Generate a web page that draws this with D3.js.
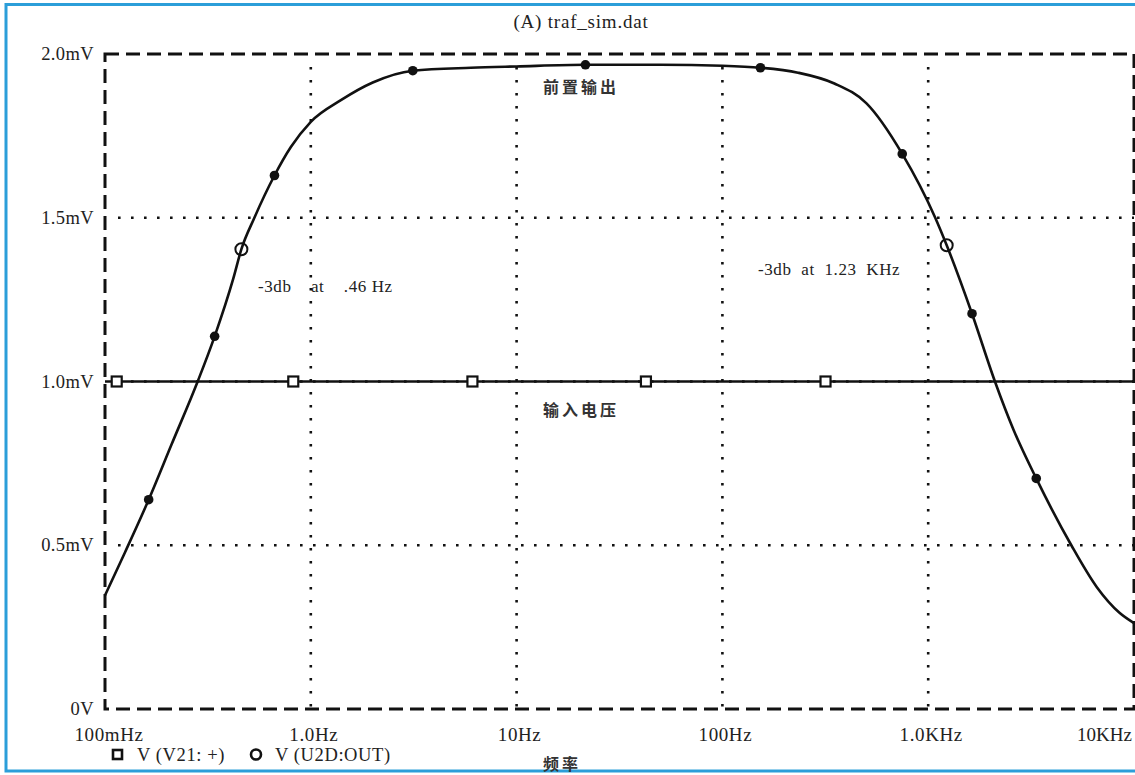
<!DOCTYPE html>
<html>
<head>
<meta charset="utf-8">
<script src="https://cdn.jsdelivr.net/npm/d3@7"></script>
<style>
  html, body { margin: 0; padding: 0; background: #fff; }
  svg { display: block; }
  .serif { font-family: "Liberation Serif", "DejaVu Serif", serif; fill: #222; }
  .cjk { font-family: "Noto Sans CJK SC", sans-serif; font-weight: 700; fill: #333; }
</style>
</head>
<body>
<svg id="chart" width="1135" height="775"></svg>
<script>
// Frequency response of the preamp output, V(U2D:OUT)
const outFreq = [0.1, 0.125, 0.163, 0.21, 0.282, 0.341, 0.42, 0.46, 0.532, 0.666, 0.8, 1.0, 1.4, 2.0, 3.13, 6, 10, 21.6, 50, 100, 153, 233, 350, 500, 748, 1082, 1230, 1633, 2110, 2600, 3350, 4960, 6600, 8500, 10000];
const outVolt = [0.347, 0.478, 0.639, 0.806, 1.0, 1.138, 1.314, 1.404, 1.5, 1.629, 1.716, 1.793, 1.859, 1.913, 1.949, 1.958, 1.962, 1.967, 1.967, 1.964, 1.958, 1.943, 1.91, 1.85, 1.695, 1.5, 1.416, 1.207, 1.0, 0.852, 0.704, 0.5, 0.372, 0.294, 0.2625];

// Filled markers along the output trace
const dotFreq = [0.163, 0.341, 0.666, 3.13, 21.6, 153, 748, 1633, 3350];
const dotVolt = [0.639, 1.138, 1.629, 1.949, 1.967, 1.958, 1.695, 1.207, 0.704];

// Hollow circle markers of V(U2D:OUT) at the -3 dB points
const ringFreq = [0.46, 1230];
const ringVolt = [1.404, 1.416];

// Input voltage V(V21:+), flat 1.0 mV, with its square markers
const inFreq = [0.1, 10000];
const inVolt = [1.0, 1.0];
const squareFreq = [0.114, 0.822, 6.1, 42.5, 317];
const squareVolt = [1.0, 1.0, 1.0, 1.0, 1.0];

// Axis ticks
const xTicks = [0.1, 1, 10, 100, 1000, 10000];
const xTickLabels = ["100mHz", "1.0Hz", "10Hz", "100Hz", "1.0KHz", "10KHz"];
const yTicks = [0, 0.5, 1.0, 1.5, 2.0];
const yTickLabels = ["0V", "0.5mV", "1.0mV", "1.5mV", "2.0mV"];

const svg = d3.select("#chart");
const plotL = 105, plotR = 1134, plotT = 54, plotB = 709;

const x = d3.scaleLog().domain([0.1, 10000]).range([plotL, plotR]);
const y = d3.scaleLinear().domain([0, 2]).range([plotB, plotT]);

// Outer blue frame
svg.append("rect")
  .attr("x", 6).attr("y", 4.5).attr("width", 1140).attr("height", 766.5)
  .attr("fill", "none").attr("stroke", "#2b9ed9").attr("stroke-width", 3);

// Title
svg.append("text").attr("class", "serif")
  .attr("x", 581).attr("y", 28).attr("text-anchor", "middle")
  .attr("font-size", 19).attr("letter-spacing", 0.8).text("(A) traf_sim.dat");

// Dotted grid
const grid = svg.append("g")
  .attr("stroke", "#111").attr("stroke-width", 2.6)
  .attr("stroke-dasharray", "2.6 10.4");
grid.selectAll("line.v").data(xTicks.slice(1, -1)).join("line")
  .attr("class", "v")
  .attr("x1", d => x(d)).attr("x2", d => x(d))
  .attr("y1", plotT + 13).attr("y2", plotB);
grid.selectAll("line.h").data(yTicks.slice(1, -1)).join("line")
  .attr("class", "h")
  .attr("x1", plotL + 13).attr("x2", plotR)
  .attr("y1", d => y(d)).attr("y2", d => y(d));

// Dashed plot frame
svg.append("rect")
  .attr("x", plotL).attr("y", plotT).attr("width", plotR - plotL).attr("height", plotB - plotT)
  .attr("fill", "none").attr("stroke", "#111").attr("stroke-width", 3)
  .attr("stroke-dasharray", "14 7");

// Y tick labels
svg.append("g").selectAll("text").data(yTicks).join("text")
  .attr("class", "serif").attr("font-size", 18.5).attr("letter-spacing", 0.4)
  .attr("x", 94).attr("y", d => y(d) + 6).attr("text-anchor", "end")
  .text((d, i) => yTickLabels[i]);

// X tick labels (last one right-aligned inside the frame)
const lastTick = xTicks.length - 1;
svg.append("g").selectAll("text").data(xTicks).join("text")
  .attr("class", "serif").attr("font-size", 19)
  .attr("letter-spacing", (d, i) => i === lastTick ? 0 : 0.6)
  .attr("x", (d, i) => i === 0 ? x(d) + 4 : (i === lastTick ? x(d) - 2 : x(d) + 3))
  .attr("y", 741)
  .attr("text-anchor", (d, i) => i === lastTick ? "end" : "middle")
  .text((d, i) => xTickLabels[i]);

// Traces
const line = d3.line().x(d => x(d[0])).y(d => y(d[1])).curve(d3.curveMonotoneX);

svg.append("path")
  .datum(inFreq.map((f, i) => [f, inVolt[i]]))
  .attr("d", line).attr("fill", "none").attr("stroke", "#111").attr("stroke-width", 2.6);

svg.append("path")
  .datum(outFreq.map((f, i) => [f, outVolt[i]]))
  .attr("d", line).attr("fill", "none").attr("stroke", "#111").attr("stroke-width", 2.6);

// Markers
svg.append("g").selectAll("rect").data(squareFreq).join("rect")
  .attr("x", d => x(d) - 5).attr("y", (d, i) => y(squareVolt[i]) - 5)
  .attr("width", 10).attr("height", 10)
  .attr("fill", "#fff").attr("stroke", "#111").attr("stroke-width", 2.2);

svg.append("g").selectAll("circle").data(dotFreq).join("circle")
  .attr("cx", d => x(d)).attr("cy", (d, i) => y(dotVolt[i])).attr("r", 4.8)
  .attr("fill", "#111");

svg.append("g").selectAll("circle").data(ringFreq).join("circle")
  .attr("cx", d => x(d)).attr("cy", (d, i) => y(ringVolt[i])).attr("r", 6)
  .attr("fill", "none").attr("stroke", "#111").attr("stroke-width", 2);

// Annotations
svg.append("text").attr("class", "serif").attr("font-size", 17).attr("letter-spacing", 0.6)
  .attr("x", 258).attr("y", 292).attr("xml:space", "preserve")
  .text("-3db    at    .46 Hz");
svg.append("text").attr("class", "serif").attr("font-size", 17).attr("letter-spacing", 0.6)
  .attr("x", 758).attr("y", 275).attr("xml:space", "preserve")
  .text("-3db  at  1.23  KHz");
svg.append("text").attr("class", "cjk").attr("font-size", 16)
  .attr("x", 543).attr("y", 93).attr("letter-spacing", 3).text("前置输出");
svg.append("text").attr("class", "cjk").attr("font-size", 16)
  .attr("x", 543).attr("y", 416).attr("letter-spacing", 3).text("输入电压");

// Legend
svg.append("rect").attr("x", 113).attr("y", 750).attr("width", 9).attr("height", 9)
  .attr("fill", "#fff").attr("stroke", "#111").attr("stroke-width", 2.6);
svg.append("text").attr("class", "serif").attr("font-size", 18.5).attr("letter-spacing", 0.6)
  .attr("x", 137).attr("y", 761).attr("xml:space", "preserve").text("V (V21: +)");
svg.append("circle").attr("cx", 256).attr("cy", 754.5).attr("r", 5)
  .attr("fill", "none").attr("stroke", "#111").attr("stroke-width", 2.6);
svg.append("text").attr("class", "serif").attr("font-size", 18.5).attr("letter-spacing", 0.6)
  .attr("x", 275).attr("y", 761).text("V (U2D:OUT)");

// X axis title
svg.append("text").attr("class", "cjk").attr("font-size", 16)
  .attr("x", 562).attr("y", 770).attr("text-anchor", "middle")
  .attr("letter-spacing", 3).text("频率");
</script>
</body>
</html>
